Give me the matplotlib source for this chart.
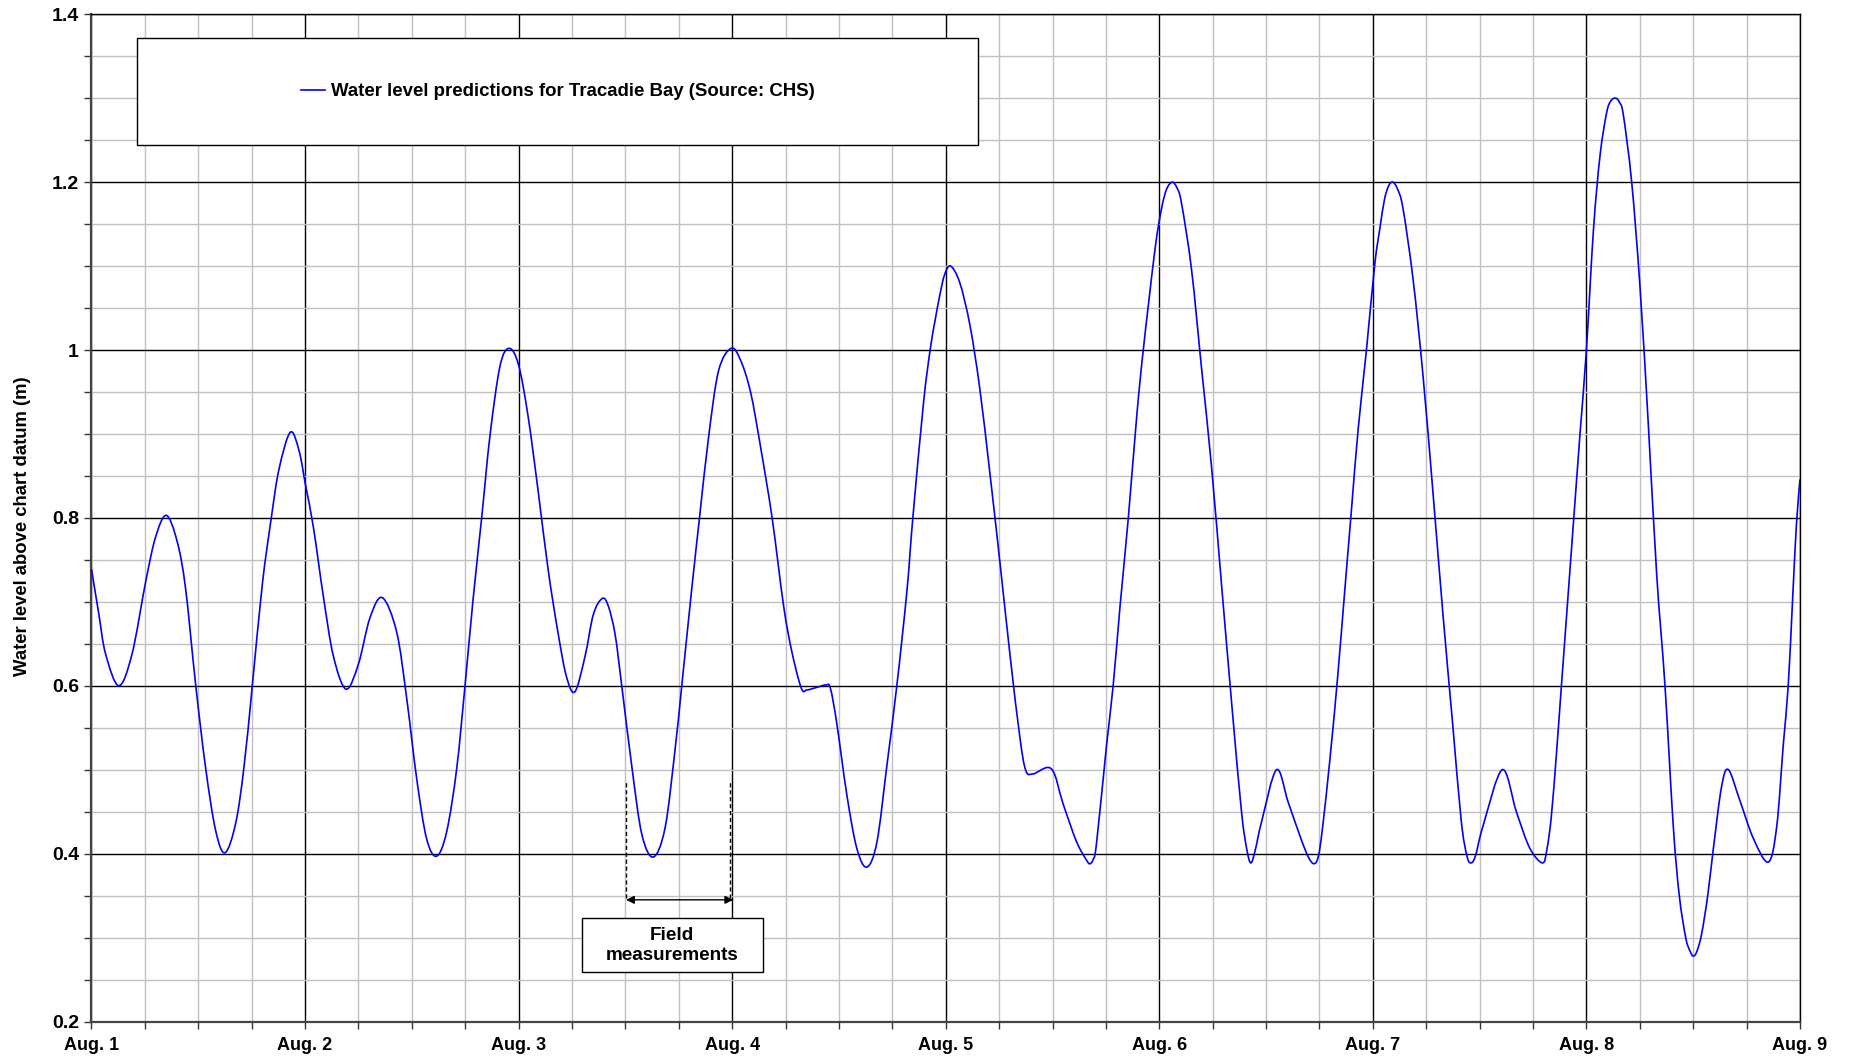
import matplotlib
matplotlib.use("Agg")
import matplotlib.pyplot as plt
import numpy as np
from matplotlib.patches import Rectangle, PathPatch
from matplotlib.path import Path
from matplotlib.lines import Line2D
from matplotlib.ticker import MultipleLocator, FuncFormatter

# water level (days after Aug. 1, metres above chart datum)
days = [0.0, 0.034, 0.066, 0.128, 0.19, 0.253, 0.3, 0.35, 0.40, 0.44, 0.4875,
        0.534, 0.581, 0.625, 0.675, 0.714, 0.753, 0.8, 0.842, 0.878, 0.931, 0.972,
        1.003, 1.039, 1.086, 1.133, 1.192, 1.25, 1.304, 1.362, 1.429, 1.476,
        1.523, 1.569, 1.616, 1.663, 1.71, 1.749, 1.788, 1.827, 1.866, 1.913,
        1.956, 2.0, 2.045, 2.092, 2.139, 2.186, 2.225, 2.264, 2.311, 2.35,
        2.392, 2.42, 2.452, 2.483, 2.53, 2.577, 2.631, 2.686, 2.733, 2.764,
        2.811, 2.847, 2.889, 2.936, 2.995, 3.039, 3.086, 3.132, 3.187, 3.241,
        3.28, 3.324, 3.35, 3.395, 3.44, 3.46, 3.49, 3.537, 3.584, 3.631, 3.678,
        3.724, 3.771, 3.818, 3.846, 3.896, 3.927, 3.95, 3.972, 3.995, 4.023,
        4.066, 4.113, 4.159, 4.206, 4.253, 4.3, 4.347, 4.375, 4.409, 4.495,
        4.55, 4.613, 4.66, 4.675, 4.69, 4.706, 4.753, 4.784, 4.816, 4.855, 4.894,
        4.925, 4.98, 5.011, 5.035, 5.061, 5.083, 5.104, 5.151, 5.198, 5.245,
        5.292, 5.339, 5.385, 5.41, 5.429, 5.45, 5.479, 5.549, 5.604, 5.666,
        5.7, 5.725, 5.745, 5.765, 5.8, 5.835, 5.869, 5.9, 5.931, 5.97, 6.009,
        6.033, 6.055, 6.075, 6.094, 6.115, 6.141, 6.188, 6.234, 6.281, 6.328,
        6.375, 6.414, 6.44, 6.458, 6.48, 6.516, 6.606, 6.672, 6.734, 6.794,
        6.815, 6.836, 6.86, 6.883, 6.912, 6.941, 6.97, 7.0, 7.033, 7.064, 7.095,
        7.115, 7.137, 7.155, 7.173, 7.212, 7.251, 7.29, 7.329, 7.368, 7.407,
        7.435, 7.465, 7.485, 7.501, 7.518, 7.54, 7.568, 7.594, 7.633, 7.665,
        7.719, 7.782, 7.852, 7.891, 7.922, 7.945, 7.965, 7.983, 8.0]
level = [0.739, 0.686, 0.638, 0.600, 0.638, 0.723, 0.777, 0.803, 0.773, 0.717, 0.602,
         0.503, 0.428, 0.401, 0.436, 0.503, 0.600, 0.721, 0.800, 0.858, 0.902, 0.880,
         0.838, 0.789, 0.706, 0.635, 0.596, 0.626, 0.681, 0.705, 0.664, 0.585,
         0.489, 0.418, 0.397, 0.426, 0.501, 0.600, 0.706, 0.800, 0.898, 0.981,
         1.002, 0.982, 0.920, 0.831, 0.737, 0.661, 0.610, 0.593, 0.635, 0.685,
         0.704, 0.695, 0.661, 0.600, 0.504, 0.423, 0.396, 0.431, 0.525, 0.600,
         0.716, 0.800, 0.895, 0.975, 1.002, 0.988, 0.950, 0.886, 0.800, 0.695,
         0.640, 0.597, 0.595, 0.598, 0.601, 0.597, 0.555, 0.470, 0.406, 0.384, 0.414,
         0.504, 0.600, 0.712, 0.800, 0.937, 1.000, 1.035, 1.065, 1.090, 1.100,
         1.080, 1.030, 0.955, 0.855, 0.749, 0.639, 0.539, 0.499, 0.495, 0.501,
         0.459, 0.414, 0.392, 0.388, 0.393, 0.412, 0.529, 0.600, 0.694, 0.800, 0.920,
         1.000, 1.120, 1.169, 1.192, 1.200, 1.193, 1.175, 1.096, 0.978, 0.860,
         0.719, 0.579, 0.450, 0.405, 0.389, 0.405, 0.438, 0.500, 0.461, 0.416,
         0.395, 0.388, 0.397, 0.432, 0.515, 0.610, 0.715, 0.810, 0.905, 1.000, 1.102,
         1.145, 1.180, 1.196, 1.200, 1.192, 1.169, 1.085, 0.972, 0.832, 0.686,
         0.551, 0.439, 0.398, 0.389, 0.397, 0.433, 0.500, 0.450, 0.407, 0.389,
         0.405, 0.445, 0.520, 0.600, 0.700, 0.800, 0.900, 1.000, 1.143, 1.232, 1.283,
         1.297, 1.300, 1.295, 1.280, 1.200, 1.075, 0.911, 0.733, 0.600, 0.432,
         0.350, 0.300, 0.284, 0.278, 0.284, 0.305, 0.350, 0.405, 0.480, 0.500,
         0.463, 0.418, 0.390, 0.432, 0.530, 0.600, 0.700, 0.790, 0.846]

day_labels = ["Aug. 1", "Aug. 2", "Aug. 3", "Aug. 4", "Aug. 5",
              "Aug. 6", "Aug. 7", "Aug. 8", "Aug. 9"]
series_label = "Water level predictions for Tracadie Bay (Source: CHS)"
field_start, field_end = 2.503, 3.0

plt.rcParams["font.family"] = ["Liberation Sans", "DejaVu Sans"]
plt.rcParams["font.weight"] = "bold"


def smooth_path(x, y):
    """Excel-style smoothed line: Bezier segments through every data point."""
    pts = np.column_stack([x, y])
    verts = [pts[0]]
    codes = [Path.MOVETO]
    n = len(pts)
    for i in range(n - 1):
        p0 = pts[max(i - 1, 0)]
        p1 = pts[i]
        p2 = pts[i + 1]
        p3 = pts[min(i + 2, n - 1)]
        verts += [p1 + (p2 - p0) / 6.0, p2 - (p3 - p1) / 6.0, p2]
        codes += [Path.CURVE4] * 3
    return Path(verts, codes)


fig = plt.figure(figsize=(18.52, 10.63), dpi=100)
ax = fig.add_axes([0.0494, 0.039, 0.9225, 0.9476])

ax.add_patch(PathPatch(smooth_path(days, level), facecolor="none",
                       edgecolor="#0000ff", lw=1.2, zorder=3))

ax.set_xlim(0, 8)
ax.set_ylim(0.2, 1.4)
ax.xaxis.set_major_locator(MultipleLocator(1))
ax.xaxis.set_minor_locator(MultipleLocator(0.25))
ax.yaxis.set_major_locator(MultipleLocator(0.2))
ax.yaxis.set_minor_locator(MultipleLocator(0.05))
ax.xaxis.set_major_formatter(FuncFormatter(lambda v, p: day_labels[int(round(v))] if 0 <= round(v) < len(day_labels) else ""))
ax.yaxis.set_major_formatter(FuncFormatter(lambda v, p: "%g" % round(v, 2)))

ax.grid(which="minor", color="#c0c0c0", lw=1.0, zorder=0)
ax.grid(which="major", color="black", lw=1.0, zorder=1)
ax.set_axisbelow(True)
ax.tick_params(which="both", direction="out", length=5, width=1, color="#333333")
ax.tick_params(axis="x", which="major", labelsize=13, pad=6)
ax.tick_params(axis="y", which="major", labelsize=14, pad=4)
for side in ["top", "right"]:
    ax.spines[side].set_color("black")
    ax.spines[side].set_linewidth(1.0)
for side in ["left", "bottom"]:
    ax.spines[side].set_color("#444444")
    ax.spines[side].set_linewidth(1.6)

ax.set_ylabel("Water level above chart datum (m)", fontsize=13.3, fontweight="bold")
ax.yaxis.set_label_coords(-0.0355, 0.492)

# legend box
ax.add_patch(Rectangle((0.0266, 0.8702), 0.4923, 0.1062, transform=ax.transAxes,
                       facecolor="white", edgecolor="black", lw=1.0, zorder=4))
handle = Line2D([], [], color="#0000ff", lw=1.2)
leg = ax.legend([handle], [series_label], loc="center", bbox_to_anchor=(0.2728, 0.9233),
                frameon=False, handlelength=1.3, handletextpad=0.3,
                prop={"weight": "bold", "size": 13.4})
leg.set_zorder(5)

# field measurement marker
for xv in (field_start, field_end - 0.01):
    ax.plot([xv, xv], [0.347, 0.486], ls=(0, (3, 2)), color="black", lw=1.0, zorder=4)
ax.annotate("", xy=(field_start, 0.345), xytext=(field_end + 0.005, 0.345),
            arrowprops=dict(arrowstyle="<|-|>", color="black", lw=1.0,
                            mutation_scale=12, shrinkA=0, shrinkB=0), zorder=4)
ax.add_patch(Rectangle((2.295, 0.259), 0.851, 0.064, facecolor="white",
                       edgecolor="black", lw=1.0, zorder=4))
ax.text(2.72, 0.2905, "Field\nmeasurements", ha="center", va="center",
        fontsize=13.6, fontweight="bold", linespacing=1.25, zorder=5)

fig.savefig("out.png", dpi=100)
